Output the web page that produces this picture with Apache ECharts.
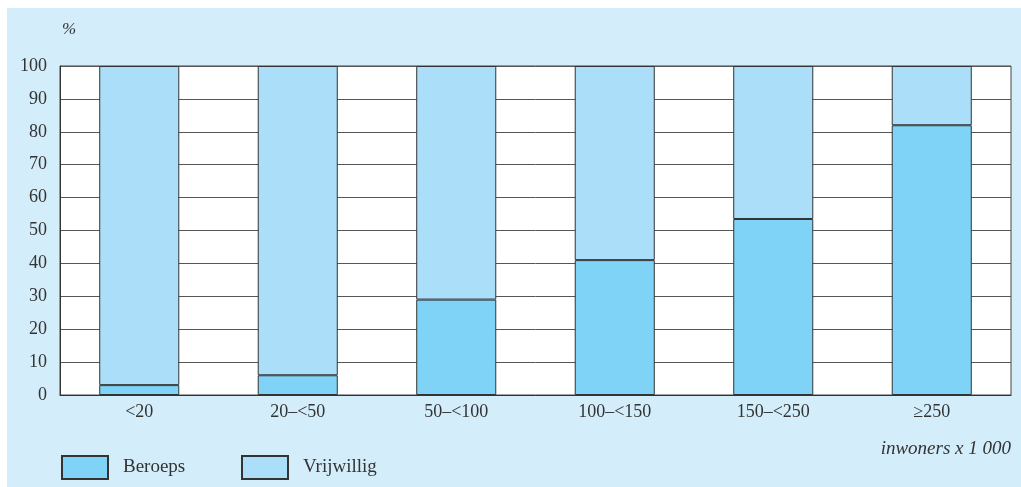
<!DOCTYPE html>
<html>
<head>
<meta charset="utf-8">
<script src="https://cdn.jsdelivr.net/npm/echarts@6/dist/echarts.min.js"></script>
<style>
  html, body { margin: 0; padding: 0; background: #fff; }
  #chart { width: 1021px; height: 487px; }
</style>
</head>
<body>
<div id="chart"></div>
<script>
// grootteklassen gemeenten (inwoners x 1 000)
var categories = ['<20', '20–<50', '50–<100', '100–<150', '150–<250', '≥250'];
var beroeps = [3, 6, 29, 41, 53.5, 82];
var vrijwillig = [97, 94, 71, 59, 46.5, 18];

var serif = '"Liberation Serif", "DejaVu Serif", serif';

var chart = echarts.init(document.getElementById('chart'));

var legendText = {
  fontFamily: serif,
  fontSize: 19,
  color: '#333',
  padding: [0, 0, 0, 10]
};

var option = {
  backgroundColor: '#fff',
  animation: false,
  graphic: [
    {
      type: 'rect',
      z: -10,
      shape: { x: 7, y: 8, width: 1014, height: 479 },
      style: { fill: '#d3eefa' }
    },
    {
      type: 'text',
      left: 62,
      top: 21,
      style: { text: '%', font: 'italic 17px ' + serif, fill: '#333' }
    },
    {
      type: 'text',
      right: 10,
      top: 439,
      style: { text: 'inwoners x 1 000', font: 'italic 19px ' + serif, fill: '#333' }
    }
  ],
  grid: {
    left: 60,
    right: 10,
    top: 66,
    bottom: 92,
    show: true,
    backgroundColor: '#fff',
    borderColor: '#444',
    borderWidth: 1
  },
  legend: [
    {
      left: 56,
      top: 450,
      itemWidth: 46,
      itemHeight: 23,
      icon: 'rect',
      selectedMode: false,
      data: ['Beroeps'],
      textStyle: legendText
    },
    {
      left: 236,
      top: 450,
      itemWidth: 46,
      itemHeight: 23,
      icon: 'rect',
      selectedMode: false,
      data: ['Vrijwillig'],
      textStyle: legendText
    }
  ],
  xAxis: {
    type: 'category',
    data: categories,
    axisLine: { show: true, lineStyle: { color: '#333', width: 1 } },
    axisTick: { show: false },
    axisLabel: { fontFamily: serif, fontSize: 18, color: '#333', margin: 8 }
  },
  yAxis: {
    type: 'value',
    min: 0,
    max: 100,
    interval: 10,
    axisLine: { show: true, lineStyle: { color: '#333' } },
    axisTick: { show: false },
    axisLabel: { fontFamily: serif, fontSize: 18, color: '#333', margin: 13 },
    splitLine: { show: true, lineStyle: { color: '#555', width: 1 } }
  },
  series: [
    {
      name: 'Beroeps',
      type: 'bar',
      stack: 'totaal',
      barWidth: '50.5%',
      data: beroeps,
      itemStyle: { color: '#7fd3f7', borderColor: '#333', borderWidth: 1 }
    },
    {
      name: 'Vrijwillig',
      type: 'bar',
      stack: 'totaal',
      barWidth: '50.5%',
      data: vrijwillig,
      itemStyle: { color: '#abdff9', borderColor: '#333', borderWidth: 1 }
    }
  ]
};

chart.setOption(option);
window.onresize = function () {
  chart.resize();
};
</script>
</body>
</html>
